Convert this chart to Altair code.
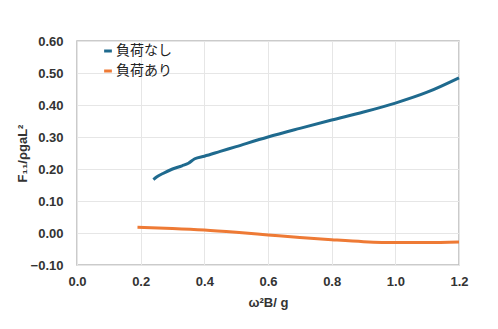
import altair as alt
import pandas as pd

series_names = ["負荷なし", "負荷あり"]

x_none = [0.24, 0.25, 0.27, 0.30, 0.33, 0.35, 0.37, 0.40, 0.45, 0.50, 0.60, 0.70, 0.80, 0.90, 1.00, 1.10, 1.20]
y_none = [0.167, 0.175, 0.186, 0.200, 0.210, 0.218, 0.232, 0.240, 0.255, 0.270, 0.300, 0.327, 0.353, 0.378, 0.406, 0.440, 0.485]

x_load = [0.19, 0.30, 0.40, 0.50, 0.60, 0.70, 0.80, 0.90, 1.00, 1.10, 1.20]
y_load = [0.018, 0.014, 0.009, 0.002, -0.006, -0.014, -0.021, -0.027, -0.030, -0.030, -0.028]

rows = []
for i, (x, y) in enumerate(zip(x_none, y_none)):
    rows.append({"x": x, "y": y, "s": series_names[0], "o": i})
for i, (x, y) in enumerate(zip(x_load, y_load)):
    rows.append({"x": x, "y": y, "s": series_names[1], "o": i})
df = pd.DataFrame(rows)

font = "Liberation Sans"

chart = alt.Chart(df).mark_line(strokeWidth=3, interpolate="monotone").encode(
    x=alt.X("x:Q", scale=alt.Scale(domain=[0, 1.2]),
            axis=alt.Axis(title="ω²B/ g", values=[0, 0.2, 0.4, 0.6, 0.8, 1.0, 1.2], format=".1f",
                          labelFontSize=13, labelFontWeight="bold", labelColor="#333333",
                          titleFontSize=13, titleFontWeight="bold", titleColor="#333333",
                          labelFont=font, titleFont=font, ticks=False, domain=False,
                          labelFlush=False, labelPadding=10, titlePadding=8, gridColor="#e6e6e6")),
    y=alt.Y("y:Q", scale=alt.Scale(domain=[-0.1, 0.6]),
            axis=alt.Axis(title="F₁₁/ρgaL²", values=[-0.1, 0, 0.1, 0.2, 0.3, 0.4, 0.5, 0.6], format=".2f",
                          labelFontSize=13, labelFontWeight="bold", labelColor="#333333",
                          titleFontSize=13, titleFontWeight="bold", titleColor="#333333",
                          labelFont=font, titleFont=font, ticks=False, domain=False,
                          labelFlush=False, labelPadding=14, titlePadding=1, gridColor="#e6e6e6")),
    color=alt.Color("s:N", scale=alt.Scale(domain=series_names, range=["#1f6a8e", "#ee7a35"]),
                    legend=alt.Legend(title=None, orient="none", legendX=24, legendY=3,
                                      symbolType="stroke", symbolSize=60, symbolStrokeWidth=3,
                                      labelFont="Noto Sans CJK JP", labelFontSize=14,
                                      labelColor="#222222", rowPadding=6, labelOffset=1)),
    detail="s:N",
    order="o:Q",
).properties(
    width=382, height=224,
    padding={"left": 69, "top": 33, "right": 31, "bottom": 56},
    autosize=alt.AutoSizeParams(type="none"),
).configure_view(stroke="#bbbbbb", strokeWidth=1.5)

chart.save("out.html", embed_options={"renderer": "svg", "actions": False})
